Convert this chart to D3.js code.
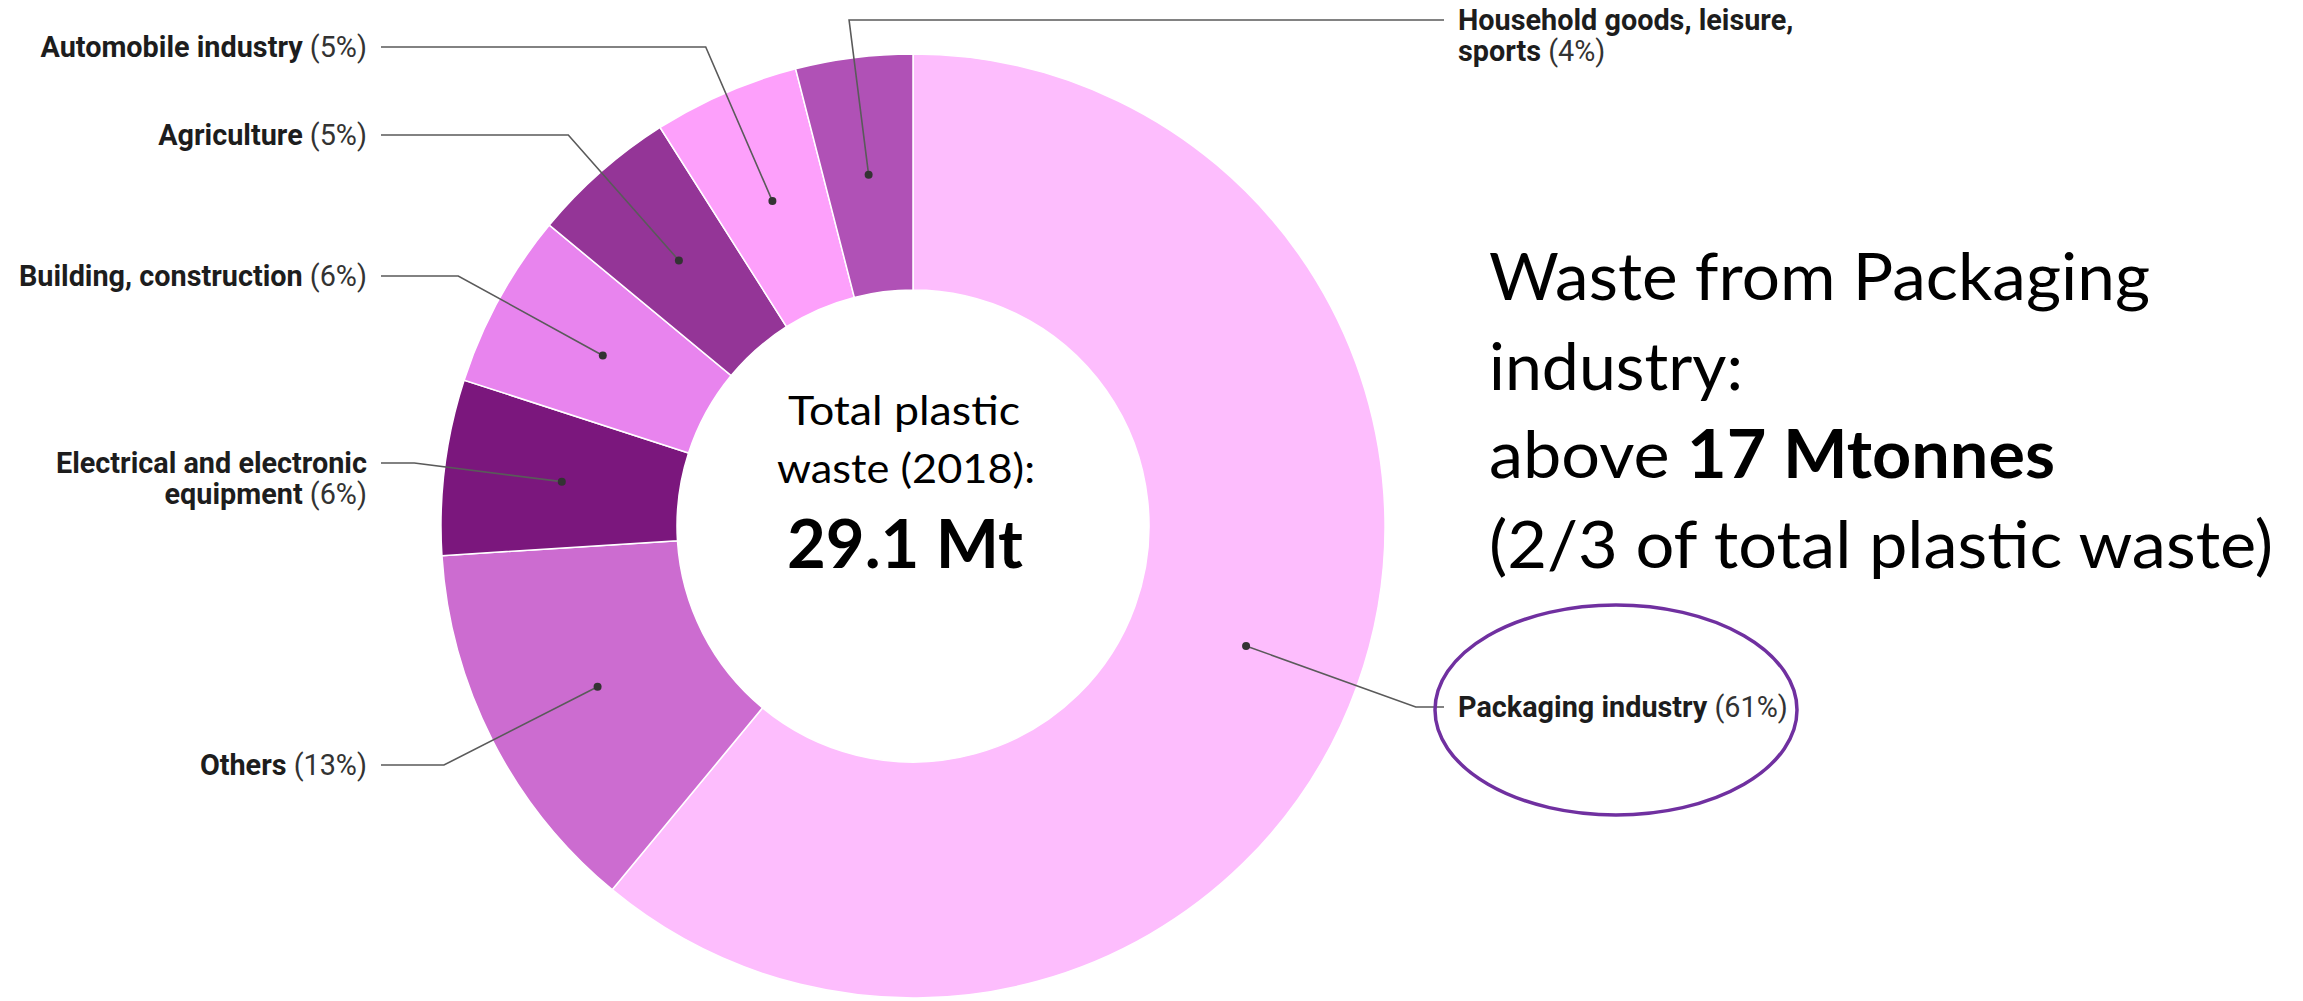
<!DOCTYPE html>
<html>
<head>
<meta charset="utf-8">
<script src="https://cdn.jsdelivr.net/npm/d3@7"></script>
<style>
  html, body { margin: 0; padding: 0; background: #fff; }
  svg { display: block; }
</style>
</head>
<body>
<svg id="chart" width="2303" height="1001"></svg>
<script>
// ---- data ----
const categories = ["Packaging industry", "Others", "Electrical and electronic equipment",
  "Building, construction", "Agriculture", "Automobile industry", "Household goods, leisure, sports"];
const shares = [61, 13, 6, 6, 5, 5, 4];
const labelNameLines = [["Packaging industry"], ["Others"], ["Electrical and electronic", "equipment"],
  ["Building, construction"], ["Agriculture"], ["Automobile industry"], ["Household goods, leisure,", "sports"]];
const colors = ["#fdbdfd", "#cc6cd0", "#7b177d", "#e884ee", "#943597", "#fda0fb", "#b051b6"];
const centerLines = ["Total plastic", "waste (2018):"];
const centerTotal = "29.1 Mt";
const noteLines = [["Waste from Packaging"], ["industry:"], ["above ", "17 Mtonnes"], ["(2/3 of total plastic waste)"]];

// ---- layout ----
const cx = 913, cy = 526, rOuter = 472, rInner = 236;
const labelY = [707, 765, 463, 276, 135, 47, 20];
const labelSide = ["right", "left", "left", "left", "left", "left", "right"];
const leftTextX = 367, leftLineX = 381, rightTextX = 1458, rightLineX = 1444;

const svg = d3.select("#chart");
svg.append("rect").attr("width", 2303).attr("height", 1001).attr("fill", "#fff");

const data = categories.map((c, i) => ({ name: c, share: shares[i], i }));
const pie = d3.pie().sort(null).value(d => d.share).startAngle(0).endAngle(2 * Math.PI);
const arcs = pie(data);
const arc = d3.arc().innerRadius(rInner).outerRadius(rOuter);
const dotArc = d3.arc().innerRadius((rInner + rOuter) / 2).outerRadius((rInner + rOuter) / 2);

const g = svg.append("g").attr("transform", `translate(${cx},${cy})`);
g.selectAll("path.slice").data(arcs).join("path")
  .attr("class", "slice")
  .attr("d", arc)
  .attr("fill", d => colors[d.data.i])
  .attr("stroke", "#fff")
  .attr("stroke-width", 1.5);

// leader lines + dots
arcs.forEach(d => {
  const i = d.data.i;
  const p = dotArc.centroid(d);
  const a = (d.startAngle + d.endAngle) / 2;
  const dir = [Math.sin(a), -Math.cos(a)];
  const ly = labelY[i] - cy;
  const t = (ly - p[1]) / dir[1];
  const elbow = [p[0] + t * dir[0], ly];
  const endX = (labelSide[i] === "left" ? leftLineX : rightLineX) - cx;
  g.append("path")
    .attr("d", d3.line()([p, elbow, [endX, ly]]))
    .attr("fill", "none").attr("stroke", "#5a5a5a").attr("stroke-width", 1.6);
  g.append("circle").attr("cx", p[0]).attr("cy", p[1]).attr("r", 4).attr("fill", "#333");
});

// labels
const lineH = 31;
data.forEach((d, i) => {
  const left = labelSide[i] === "left";
  const lines = labelNameLines[i];
  const txt = svg.append("text")
    .attr("x", left ? leftTextX : rightTextX)
    .attr("text-anchor", left ? "end" : "start")
    .style("font-family", "Roboto, sans-serif")
    .style("font-size", "28.8px");
  lines.forEach((ln, k) => {
    txt.append("tspan")
      .attr("x", left ? leftTextX : rightTextX)
      .attr("y", labelY[i] + k * lineH)
      .attr("dy", "0.36em")
      .attr("font-weight", 700)
      .attr("fill", "#1d1d1d")
      .text(ln);
    if (k === lines.length - 1) {
      txt.append("tspan").attr("font-weight", 400).attr("fill", "#333").text(" (" + d.share + "%)");
    }
  });
});

function fitWidth(sel, target) {
  const w = sel.node().getComputedTextLength();
  if (w > 0) sel.attr("textLength", target).attr("lengthAdjust", "spacingAndGlyphs");
}

// center text
const ct = svg.append("g").style("font-family", "Lato, 'Open Sans', sans-serif").attr("fill", "#000");
const c1 = ct.append("text").attr("x", 904).attr("y", 425).attr("text-anchor", "middle")
  .style("font-size", "41px").text(centerLines[0]);
fitWidth(c1, 232);
const c2 = ct.append("text").attr("x", 906).attr("y", 483).attr("text-anchor", "middle")
  .style("font-size", "41px").text(centerLines[1]);
fitWidth(c2, 258);
const c3 = ct.append("text").attr("x", 905).attr("y", 568).attr("text-anchor", "middle")
  .style("font-size", "66px").attr("font-weight", 700).text(centerTotal);
fitWidth(c3, 236);

// note text on the right
const noteBase = [300, 390, 478, 568];
const noteWidth = [661, 254, 566, 784];
noteLines.forEach((parts, k) => {
  const t = svg.append("text").attr("x", 1489).attr("y", noteBase[k])
    .style("font-family", "Lato, 'Open Sans', sans-serif").style("font-size", "66px").attr("fill", "#000");
  parts.forEach((p, j) => {
    t.append("tspan").attr("font-weight", (k === 2 && j === 1) ? 700 : 400).text(p);
  });
  fitWidth(t, noteWidth[k]);
});

// highlight ellipse around the packaging label
svg.append("ellipse").attr("cx", 1616).attr("cy", 710).attr("rx", 181).attr("ry", 105)
  .attr("fill", "none").attr("stroke", "#7030a0").attr("stroke-width", 3.5);
</script>
</body>
</html>
